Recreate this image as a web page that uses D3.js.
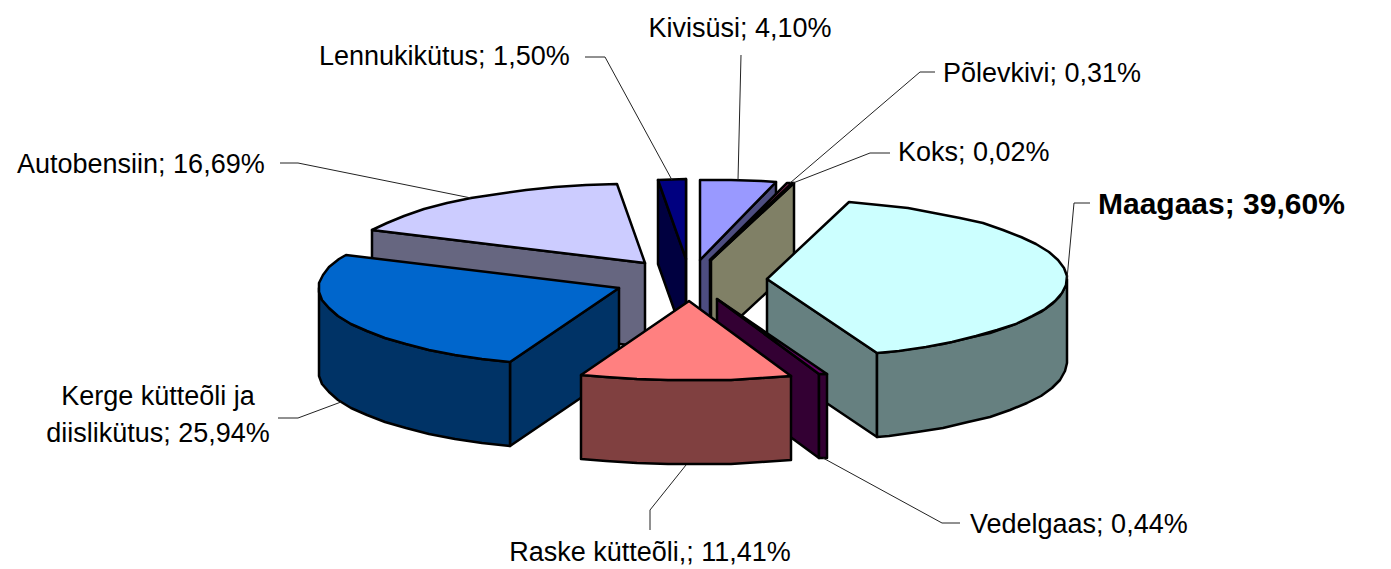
<!DOCTYPE html>
<html>
<head>
<meta charset="utf-8">
<title>Kütuste osakaal</title>
<script src="https://cdnjs.cloudflare.com/ajax/libs/d3/7.8.5/d3.min.js"></script>
<style>
html, body { margin: 0; padding: 0; background: #fff; }
text { font-family: "Liberation Sans", Arial, sans-serif; fill: #000; }
</style>
</head>
<body>
<div id="chart"></div>
<script>
const categories = ["Kivisüsi", "Põlevkivi", "Koks", "Maagaas", "Vedelgaas", "Raske kütteõli,", "Kerge kütteõli ja diislikütus", "Autobensiin", "Lennukikütus"];
const shares = [4.10, 0.31, 0.02, 39.60, 0.44, 11.41, 25.94, 16.69, 1.50];
const topColors = ["#9999FF", "#993366", "#FFFFCC", "#CCFFFF", "#660066", "#FF8080", "#0066CC", "#CCCCFF", "#000080"];
const wallColors = ["#4D4D80", "#4D1A33", "#808066", "#668080", "#330033", "#804040", "#003366", "#666680", "#000040"];

// label layout: lines, text anchor point, leader knee
const labelLayout = [
    { lines: ["Kivisüsi; 4,10%"], x: 740, y: 37, anchor: "middle", knee: [741, 55] },
    { lines: ["Põlevkivi; 0,31%"], x: 943, y: 82, anchor: "start", start: [935, 72], knee: [920, 72] },
    { lines: ["Koks; 0,02%"], x: 898, y: 161, anchor: "start", start: [890, 153], knee: [870, 153] },
    { lines: ["Maagaas; 39,60%"], x: 1098, y: 214, anchor: "start", bold: true, start: [1090, 203], knee: [1074, 203], angle: 90 },
    { lines: ["Vedelgaas; 0,44%"], x: 970, y: 533, anchor: "start", start: [960, 523], knee: [942, 523] },
    { lines: ["Raske kütteõli,; 11,41%"], x: 650, y: 561, anchor: "middle", knee: [650, 510], start: [650, 530] },
    { lines: ["Kerge kütteõli ja", "diislikütus; 25,94%"], x: 158, y: 405, anchor: "middle", start: [278, 418], knee: [298, 418] },
    { lines: ["Autobensiin; 16,69%"], x: 17, y: 173, anchor: "start", start: [280, 163], knee: [298, 163] },
    { lines: ["Lennukikütus; 1,50%"], x: 319, y: 65, anchor: "start", start: [585, 57], knee: [605, 57] }
];

const width = 1391;
const height = 569;
const centerX = 690;
const centerY = 280;
const radiusX = 300;
const radiusY = 80;
const depth = 84;
const explode = 77 / 300;
const step = Math.PI / 30;

const svg = d3.select("#chart").append("svg")
    .attr("width", width)
    .attr("height", height)
    .style("display", "block");

const sx = d3.scaleLinear().domain([-1, 1]).range([centerX - radiusX, centerX + radiusX]);
const sy = d3.scaleLinear().domain([-1, 1]).range([centerY - radiusY, centerY + radiusY]);

const pie = d3.pie().sort(null).value(d => d.share);
const slices = pie(categories.map((name, i) => ({ name, share: shares[i], index: i })))
    .map(d => {
        d.mid = (d.startAngle + d.endAngle) / 2;
        d.ox = Math.sin(d.mid) * explode;
        d.oy = -Math.cos(d.mid) * explode;
        return d;
    });

// point on a slice, r in pie radii, dz pixels below the top surface
function pt(d, angle, r, dz) {
    return [
        Math.round(sx(d.ox + Math.sin(angle) * r)),
        Math.round(sy(d.oy - Math.cos(angle) * r) + (dz || 0))
    ];
}

function rim(d, a0, a1, dz) {
    const angles = d3.range(a0, a1, step);
    angles.push(a1);
    return angles.map(a => pt(d, a, 1, dz));
}

const line = d3.line();
const shape = pts => line(pts) + "Z";

// back slices first so the front ones paint over them
const ordered = slices.slice().sort((a, b) => Math.cos(b.mid) - Math.cos(a.mid));

const groups = svg.selectAll("g.slice")
    .data(ordered)
    .enter()
    .append("g")
    .attr("class", "slice")
    .attr("stroke", "#000")
    .attr("stroke-width", 2.5)
    .attr("stroke-linejoin", "round");

groups.each(function(d) {
    const g = d3.select(this);
    const wall = wallColors[d.data.index];

    // start radial face looks at the viewer only on the left half
    if (Math.sin(d.startAngle) < 0) {
        g.append("path").attr("fill", wall).attr("d", shape([
            pt(d, 0, 0), pt(d, d.startAngle, 1), pt(d, d.startAngle, 1, depth), pt(d, 0, 0, depth)
        ]));
    }
    if (Math.sin(d.endAngle) > 0) {
        g.append("path").attr("fill", wall).attr("d", shape([
            pt(d, 0, 0), pt(d, d.endAngle, 1), pt(d, d.endAngle, 1, depth), pt(d, 0, 0, depth)
        ]));
    }

    // outer wall, front half of the ellipse only
    const a0 = Math.max(d.startAngle, Math.PI / 2);
    const a1 = Math.min(d.endAngle, Math.PI * 1.5);
    if (a1 > a0) {
        const upper = rim(d, a0, a1, 0);
        const lower = rim(d, a0, a1, depth).reverse();
        g.append("path").attr("fill", wall).attr("d", shape(upper.concat(lower)));
    }

    g.append("path")
        .attr("fill", topColors[d.data.index])
        .attr("d", shape([pt(d, 0, 0)].concat(rim(d, d.startAngle, d.endAngle, 0))));
});

// leaders and labels
labelLayout.forEach((lab, i) => {
    const d = slices[i];
    const angle = lab.angle !== undefined ? lab.angle * Math.PI / 180 : d.mid;
    const dz = Math.cos(angle) < 0 ? depth : 0;
    const end = pt(d, angle, 1, dz);
    const pts = (lab.start ? [lab.start] : []).concat([lab.knee, end]);
    svg.append("path")
        .attr("d", line(pts))
        .attr("fill", "none")
        .attr("stroke", "#222")
        .attr("stroke-width", 1);

    lab.lines.forEach((txt, k) => {
        svg.append("text")
            .attr("x", lab.x)
            .attr("y", lab.y + k * 37)
            .attr("text-anchor", lab.anchor)
            .attr("font-size", lab.bold ? 30 : 27)
            .attr("font-weight", lab.bold ? "bold" : "normal")
            .text(txt);
    });
});
</script>
</body>
</html>
